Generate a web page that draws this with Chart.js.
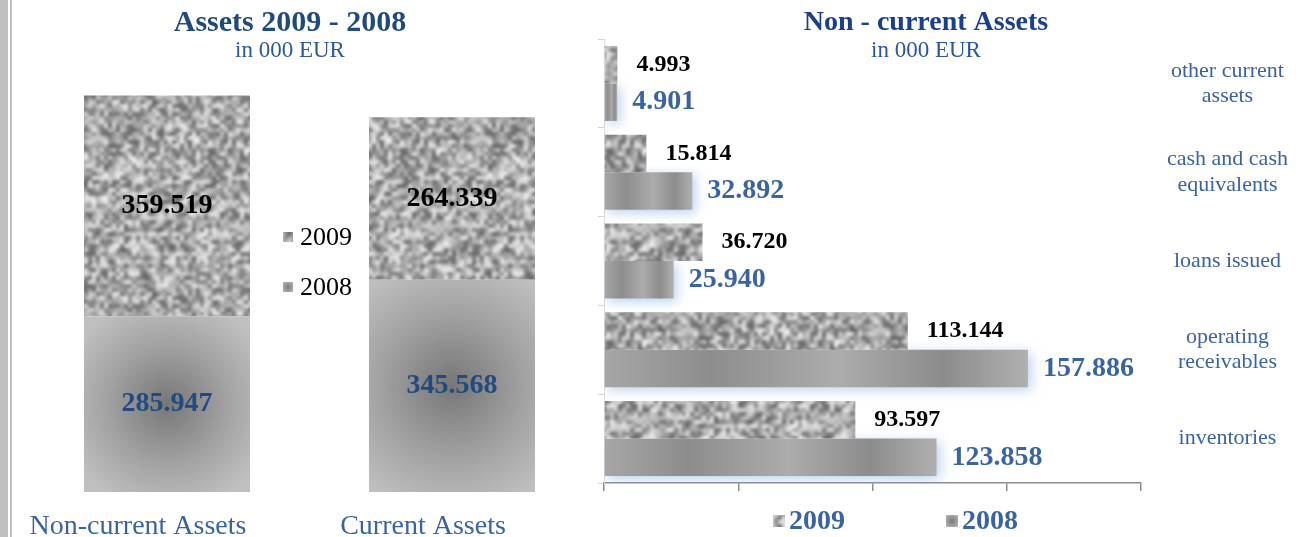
<!DOCTYPE html>
<html>
<head>
<meta charset="utf-8">
<script src="https://cdn.jsdelivr.net/npm/chart.js@4.4.0/dist/chart.umd.min.js"></script>
<style>
    html, body { margin: 0; padding: 0; background: #fff; width: 1305px; height: 537px; overflow: hidden; }
    .edge { position: absolute; top: 0; height: 537px; background: #c0c0c0; }
    #leftBox { position: absolute; left: 0; top: 0; width: 600px; height: 537px; }
    #rightBox { position: absolute; left: 590px; top: 0; width: 715px; height: 537px; }
</style>
</head>
<body>
<div class="edge" style="left:0;width:8px"></div>
<div class="edge" style="left:10px;width:2px"></div>
<div id="leftBox"><canvas id="assetsChart"></canvas></div>
<div id="rightBox"><canvas id="itemsChart"></canvas></div>
<script>
// Data (values in 000 EUR)
const assetGroups = ['Non-current Assets', 'Current Assets'];
const assets2009 = [359519, 264339];
const assets2008 = [285947, 345568];

const itemLabels = [
    ['other current', 'assets'],
    ['cash and cash', 'equivalents'],
    ['loans issued'],
    ['operating', 'receivables'],
    ['inventories']
];
const items2009 = [4993, 15814, 36720, 113144, 93597];
const items2008 = [4901, 32892, 25940, 157886, 123858];
const years = ['2009', '2008'];

const FONT = "'Liberation Serif', serif";
const BLUE = '#3a64a0';

// 1.234 style thousands separator
function fmt(n) {
    return String(n).replace(/\B(?=(\d{3})+(?!\d))/g, '.');
}

// seeded noise for the granite texture (just a fill, not data)
function mulberry32(a) {
    return function () {
        a |= 0; a = a + 0x6D2B79F5 | 0;
        let t = Math.imul(a ^ a >>> 15, 1 | a);
        t = t + Math.imul(t ^ t >>> 7, 61 | t) ^ t;
        return ((t ^ t >>> 14) >>> 0) / 4294967296;
    };
}

function makeGranite(seed) {
    const rnd = mulberry32(seed);
    const N = 48, S = 4;
    const vals = [];
    for (let i = 0; i < N * N; i++) vals.push(95 + Math.floor(rnd() * 150));

    // 3x3 wrapped copy so the blur has no seams
    const small = document.createElement('canvas');
    small.width = small.height = N * 3;
    const sctx = small.getContext('2d');
    const img = sctx.createImageData(N * 3, N * 3);
    for (let y = 0; y < N * 3; y++) {
        for (let x = 0; x < N * 3; x++) {
            const v = vals[(y % N) * N + (x % N)];
            const k = (y * N * 3 + x) * 4;
            img.data[k] = v; img.data[k + 1] = v; img.data[k + 2] = v; img.data[k + 3] = 255;
        }
    }
    sctx.putImageData(img, 0, 0);

    const mid = document.createElement('canvas');
    mid.width = mid.height = N * 3 * S;
    const mctx = mid.getContext('2d');
    mctx.imageSmoothingEnabled = true;
    mctx.drawImage(small, 0, 0, N * 3 * S, N * 3 * S);

    const out = document.createElement('canvas');
    out.width = out.height = N * S;
    const octx = out.getContext('2d');
    octx.filter = 'blur(1.1px)';
    octx.drawImage(mid, -N * S, -N * S);
    return out;
}

const graniteTile = makeGranite(7);
const granite = document.createElement('canvas').getContext('2d').createPattern(graniteTile, 'repeat');

// per-bar fills, built once the library has placed the bars
function radialPaint(ctx, el) {
    const p = el.getProps(['x', 'y', 'base', 'width'], true);
    const top = Math.min(p.y, p.base), h = Math.abs(p.base - p.y);
    const cy = top + h / 2;
    const r = Math.max(p.width, h) * 0.62;
    const g = ctx.createRadialGradient(p.x, cy, 0, p.x, cy, r);
    g.addColorStop(0, '#777777');
    g.addColorStop(0.55, '#a2a2a2');
    g.addColorStop(1, '#c0c0c0');
    return g;
}

function stripePaint(ctx, el) {
    const p = el.getProps(['x', 'base'], true);
    const g = ctx.createLinearGradient(p.base, 0, p.x, 0);
    g.addColorStop(0, '#a6a6a6');
    g.addColorStop(0.25, '#8d8d8d');
    g.addColorStop(0.55, '#acacac');
    g.addColorStop(0.8, '#8c8c8c');
    g.addColorStop(1, '#b0b0b0');
    return g;
}

const fillPlugin = {
    id: 'fillPlugin',
    beforeDatasetDraw(chart, args) {
        const ds = chart.data.datasets[args.index];
        const ctx = chart.ctx;
        if (ds.paint) {
            args.meta.data.forEach(el => {
                el.options.backgroundColor = ds.paint(ctx, el);
            });
        }
        if (ds.glow) {
            ctx.save();
            ctx.shadowColor = 'rgba(130, 170, 225, 0.55)';
            ctx.shadowBlur = 12;
            ctx.shadowOffsetX = 3;
            ctx.shadowOffsetY = 3;
        }
    },
    afterDatasetDraw(chart, args) {
        if (chart.data.datasets[args.index].glow) chart.ctx.restore();
    }
};

const valueLabels = {
    id: 'valueLabels',
    afterDatasetsDraw(chart, args, opts) {
        const ctx = chart.ctx;
        ctx.save();
        ctx.textBaseline = 'middle';
        chart.data.datasets.forEach((ds, i) => {
            const meta = chart.getDatasetMeta(i);
            ctx.font = `bold ${ds.valueSize}px ${FONT}`;
            ctx.fillStyle = ds.valueColor;
            meta.data.forEach((el, j) => {
                const text = fmt(ds.data[j]);
                if (opts.inside) {
                    const c = el.getCenterPoint();
                    ctx.textAlign = 'center';
                    ctx.fillText(text, c.x, c.y);
                } else {
                    ctx.textAlign = 'left';
                    ctx.fillText(text, el.x + ds.valueGap, el.y);
                }
            });
        });
        ctx.restore();
    }
};

const headingPlugin = {
    id: 'heading',
    afterDraw(chart, args, opts) {
        const ctx = chart.ctx;
        ctx.save();
        ctx.textAlign = 'center';
        ctx.textBaseline = 'middle';
        ctx.fillStyle = opts.color;
        ctx.font = `bold ${opts.titleSize}px ${FONT}`;
        ctx.fillText(opts.title, opts.x, opts.titleY);
        ctx.fillStyle = opts.subColor;
        ctx.font = `${opts.subSize}px ${FONT}`;
        ctx.fillText(opts.subtitle, opts.x, opts.subY);
        ctx.restore();
    }
};

// small legend drawn at fixed spots
const swatchLegend = {
    id: 'swatchLegend',
    afterDraw(chart, args, opts) {
        const ctx = chart.ctx;
        ctx.save();
        ctx.textBaseline = 'middle';
        ctx.textAlign = 'left';
        ctx.font = `${opts.bold ? 'bold ' : ''}${opts.size}px ${FONT}`;
        opts.items.forEach((it, k) => {
            const s = opts.box;
            const bx = it.x, by = it.y - s / 2;
            if (k === 0) {
                ctx.fillStyle = granite;
            } else {
                const g = ctx.createRadialGradient(bx + s / 2, it.y, 0, bx + s / 2, it.y, s * 0.7);
                g.addColorStop(0, '#7a7a7a');
                g.addColorStop(1, '#b8b8b8');
                ctx.fillStyle = g;
            }
            ctx.fillRect(bx, by, s, s);
            ctx.fillStyle = opts.color;
            ctx.fillText(years[k], bx + s + opts.gap, it.y + 1);
        });
        ctx.restore();
    }
};

Chart.register(fillPlugin);

// Left: stacked columns
new Chart(document.getElementById('assetsChart'), {
    type: 'bar',
    data: {
        labels: assetGroups,
        datasets: [
            {
                label: years[1],
                data: assets2008,
                backgroundColor: () => '#a0a0a0',
                paint: radialPaint,
                valueColor: '#214a80',
                valueSize: 28
            },
            {
                label: years[0],
                data: assets2009,
                backgroundColor: granite,
                valueColor: '#000000',
                valueSize: 28
            }
        ]
    },
    options: {
        responsive: true,
        maintainAspectRatio: false,
        animation: false,
        events: [],
        layout: { padding: { left: 24.5, right: 5.5, top: 62, bottom: 0 } },
        datasets: { bar: { categoryPercentage: 0.5825, barPercentage: 1, borderWidth: 0 } },
        scales: {
            x: {
                stacked: true,
                grid: { display: false },
                border: { display: false },
                afterFit: (s) => { s.height = 45; },
                ticks: {
                    padding: 10,
                    labelOffset: -29,
                    maxRotation: 0,
                    color: BLUE,
                    font: { family: FONT, size: 28 }
                }
            },
            y: {
                stacked: true,
                display: false,
                min: 0,
                max: 700000
            }
        },
        plugins: {
            legend: { display: false },
            tooltip: { enabled: false },
            valueLabels: { inside: true },
            heading: {
                title: 'Assets 2009 - 2008',
                subtitle: 'in 000 EUR',
                x: 290, titleY: 23, subY: 51,
                titleSize: 30, subSize: 23,
                color: '#1f4a7e', subColor: '#2d5a96'
            },
            swatchLegend: {
                items: [{ x: 283, y: 237 }, { x: 283, y: 287 }],
                box: 10, gap: 7, size: 26, bold: false, color: '#000000'
            }
        }
    },
    plugins: [valueLabels, headingPlugin, swatchLegend]
});

// Right: horizontal grouped bars
new Chart(document.getElementById('itemsChart'), {
    type: 'bar',
    data: {
        labels: itemLabels,
        datasets: [
            {
                label: years[0],
                data: items2009,
                backgroundColor: granite,
                borderWidth: 0,
                valueColor: '#000000',
                valueSize: 24,
                valueGap: 19
            },
            {
                label: years[1],
                data: items2008,
                backgroundColor: () => '#999999',
                paint: stripePaint,
                glow: true,
                borderWidth: 0,
                valueColor: BLUE,
                valueSize: 28,
                valueGap: 15
            }
        ]
    },
    options: {
        indexAxis: 'y',
        responsive: true,
        maintainAspectRatio: false,
        animation: false,
        events: [],
        layout: { padding: { left: 8, right: 0, top: 39, bottom: 46 } },
        datasets: { bar: { categoryPercentage: 0.845, barPercentage: 1 } },
        scales: {
            x: {
                min: 0,
                max: 200000,
                ticks: { stepSize: 50000, display: false },
                grid: { drawOnChartArea: false, tickLength: 8, color: '#8c8c8c', lineWidth: 1.5 },
                border: { color: '#8c8c8c', width: 1.5 }
            },
            y: {
                position: 'right',
                grid: { display: false },
                border: { display: false },
                afterFit: (s) => { s.width = 164; },
                ticks: {
                    padding: 18,
                    crossAlign: 'center',
                    color: BLUE,
                    font: { family: FONT, size: 22, lineHeight: 1.15 }
                }
            },
            y2: {
                type: 'category',
                position: 'left',
                offset: true,
                ticks: { display: false },
                grid: { offset: true, drawOnChartArea: false, tickLength: 6, color: '#d4d4d4' },
                border: { color: '#dcdcdc' }
            }
        },
        plugins: {
            legend: { display: false },
            tooltip: { enabled: false },
            valueLabels: { inside: false },
            heading: {
                title: 'Non - current Assets',
                subtitle: 'in 000 EUR',
                x: 336, titleY: 23, subY: 51,
                titleSize: 28, subSize: 23,
                color: '#1a3f8c', subColor: '#2a55a0'
            },
            swatchLegend: {
                items: [{ x: 183, y: 521 }, { x: 356, y: 521 }],
                box: 12, gap: 4, size: 28, bold: true, color: BLUE
            }
        }
    },
    plugins: [valueLabels, headingPlugin, swatchLegend]
});
</script>
</body>
</html>
